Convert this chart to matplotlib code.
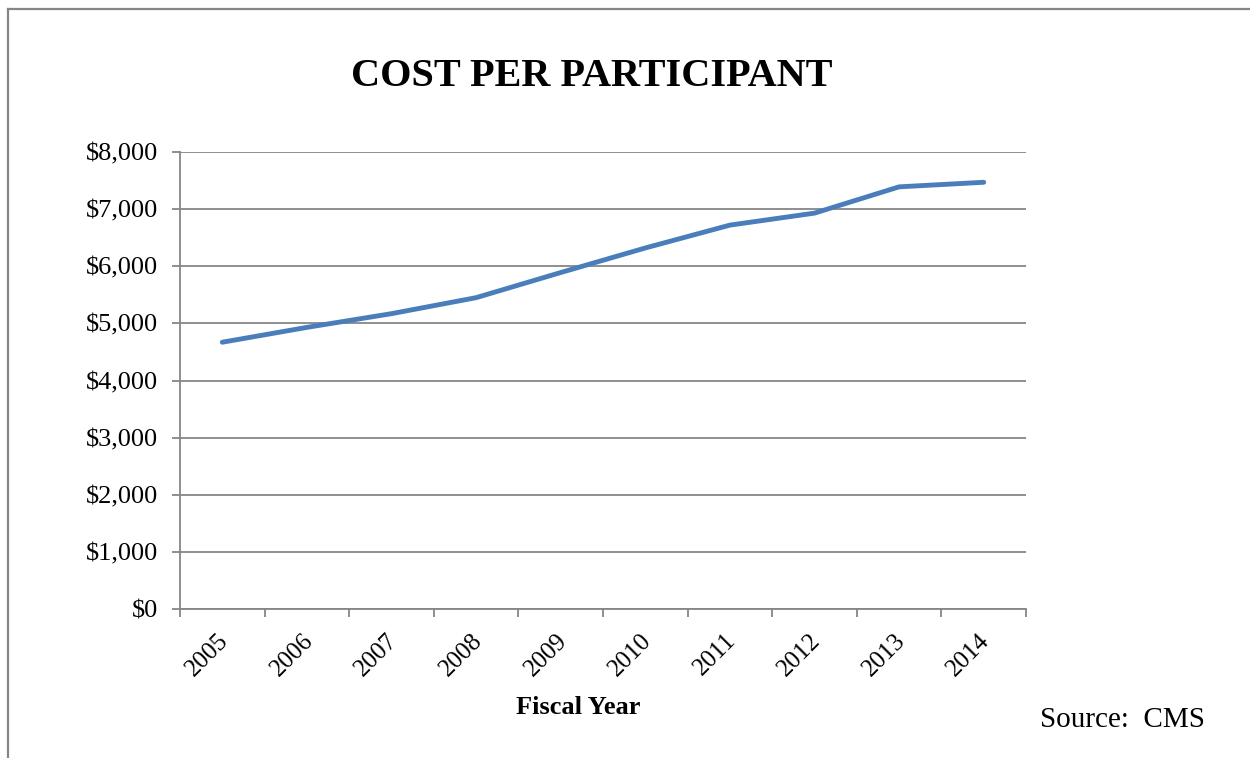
import matplotlib
matplotlib.use("Agg")
import matplotlib.pyplot as plt
from matplotlib.lines import Line2D
from matplotlib.ticker import FuncFormatter, FixedLocator
from matplotlib.transforms import ScaledTranslation

years = ["2005", "2006", "2007", "2008", "2009", "2010", "2011", "2012", "2013", "2014"]
cost = [4670, 4930, 5170, 5450, 5890, 6320, 6720, 6930, 7390, 7470]
yticks = [0, 1000, 2000, 3000, 4000, 5000, 6000, 7000, 8000]

plt.rcParams['font.family'] = ['Liberation Serif', 'DejaVu Serif']
W, H = 1250, 758
fig = plt.figure(figsize=(W / 100, H / 100), dpi=100)
ax = fig.add_axes([180 / W, 1 - 609 / H, (1026 - 180) / W, (609 - 152) / H])

grid_c = '#868686'
x = list(range(len(years)))
ax.plot(x, cost, color='#4A7EBB', lw=3.5, solid_capstyle='round', solid_joinstyle='round', zorder=3)

ax.set_xlim(-0.5, len(years) - 0.5)
ax.set_ylim(0, 8000)
ax.set_yticks(yticks)
ax.yaxis.set_major_formatter(FuncFormatter(lambda v, p: f"${int(v):,}"))
ax.grid(axis='y', color=grid_c, lw=1.3)
ax.set_axisbelow(True)

# tick marks at category boundaries, labels at centers
ax.xaxis.set_major_locator(FixedLocator([i - 0.5 for i in range(len(years) + 1)]))
ax.xaxis.set_major_formatter(FuncFormatter(lambda v, p: ""))
ax.xaxis.set_minor_locator(FixedLocator(x))
ax.set_xticklabels(years, minor=True, rotation=45, ha='right', va='top', rotation_mode='anchor', fontsize=18)
ax.tick_params(axis='x', which='major', length=6, width=1.3, color=grid_c, direction='out')
ax.tick_params(axis='x', which='minor', length=0, pad=12)
ax.tick_params(axis='y', length=6, width=1.3, color=grid_c, labelsize=19, pad=10)
off = ScaledTranslation(-5 / 100, -4 / 100, fig.dpi_scale_trans)
for lbl in ax.get_xticklabels(minor=True):
    lbl.set_transform(lbl.get_transform() + off)

for s in ['top', 'right']:
    ax.spines[s].set_visible(False)
for s in ['left', 'bottom']:
    ax.spines[s].set_color(grid_c)
    ax.spines[s].set_linewidth(1.3)

fig.text(592 / W, 1 - 76 / H, "COST PER PARTICIPANT", ha='center', va='center', fontsize=29, fontweight='bold')
fig.text(578 / W, 1 - 708 / H, "Fiscal Year", ha='center', va='center', fontsize=19, fontweight='bold')
fig.text(1040 / W, 1 - 720 / H, "Source:  CMS", ha='left', va='center', fontsize=21)

# outer frame (top and left edges visible)
fig.add_artist(Line2D([8 / W, 8 / W], [0, 1 - 9 / H], transform=fig.transFigure, color=grid_c, lw=1.6))
fig.add_artist(Line2D([8 / W, 1], [1 - 9 / H, 1 - 9 / H], transform=fig.transFigure, color=grid_c, lw=1.6))

fig.savefig("out.png", dpi=100)
